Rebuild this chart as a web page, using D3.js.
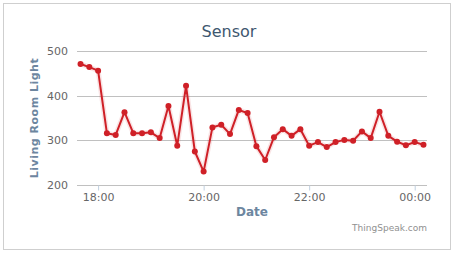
<!DOCTYPE html>
<html>
<head>
<meta charset="utf-8">
<script src="https://cdn.jsdelivr.net/npm/d3@7"></script>
<style>
  body { margin: 0; background: #fff; }
  svg { display: block; }
</style>
</head>
<body>
<svg id="chart" width="457" height="256"></svg>
<script>
// readings every 10 minutes
var times = ["17:40","17:50","18:00","18:10","18:20","18:30","18:40","18:50","19:00","19:10",
             "19:20","19:30","19:40","19:50","20:00","20:10","20:20","20:30","20:40","20:50",
             "21:00","21:10","21:20","21:30","21:40","21:50","22:00","22:10","22:20","22:30",
             "22:40","22:50","23:00","23:10","23:20","23:30","23:40","23:50","00:00","00:10"]
var light = [471,464,456,316,312,363,316,316,318,305,
             377,288,422,275,230,329,335,314,368,361,
             287,256,307,325,310,325,288,296,285,296,
             301,299,320,305,364,310,297,289,296,290]
var yTicks = [200, 300, 400, 500]
var xStart = "17:36", xEnd = "00:14"

function toDate(s){
  var p = s.split(":"), h = +p[0], m = +p[1]
  var day = h < 12 ? 2 : 1   // after midnight -> next day
  return new Date(2015, 0, day, h, m)
}

var svg = d3.select("#chart")
var font = "'DejaVu Sans', Verdana, sans-serif"
var red = "#cf2027"

// outer frame
svg.append("rect")
  .attr("x", 3.5).attr("y", 3.5).attr("width", 447).attr("height", 246)
  .style("fill", "#fff").style("stroke", "#cfcfcf")

var plotL = 77, plotR = 427, plotT = 51, plotB = 185

var x = d3.scaleTime().domain([toDate(xStart), toDate(xEnd)]).range([plotL, plotR])
var y = d3.scaleLinear().domain([200, 500]).range([plotB, plotT])

// grid lines
svg.append("g")
  .selectAll("line")
  .data(yTicks)
  .enter()
  .append("line")
  .attr("x1", plotL).attr("x2", plotR)
  .attr("y1", function(d){ return Math.round(y(d)) + 0.5 })
  .attr("y2", function(d){ return Math.round(y(d)) + 0.5 })
  .style("stroke", "#c0c0c0").style("stroke-width", 1)

// y axis labels
var yAxis = svg.append("g")
  .attr("transform", "translate(" + (plotL - 9) + ",0)")
  .call(d3.axisLeft(y).tickValues(yTicks).tickSize(0).tickPadding(0))
yAxis.select(".domain").remove()
yAxis.selectAll("text")
  .style("font-family", font).style("font-size", "11px").style("fill", "#666")

// x axis
var xAxis = svg.append("g")
  .attr("transform", "translate(0," + (plotB + 0.5) + ")")
  .call(d3.axisBottom(x).ticks(d3.timeHour.every(2)).tickFormat(d3.timeFormat("%H:%M")).tickSize(5).tickPadding(3))
xAxis.select(".domain").remove()
xAxis.selectAll("line").style("stroke", "#c0d0e0")
xAxis.selectAll("text")
  .style("font-family", font).style("font-size", "11px").style("fill", "#666")

// title
svg.append("text")
  .attr("x", 229).attr("y", 37)
  .attr("text-anchor", "middle")
  .style("font-family", font).style("font-size", "16px")
  .style("fill", "#3e576f")
  .text("Sensor")

// axis titles
svg.append("text")
  .attr("text-anchor", "middle")
  .attr("transform", "translate(38," + ((plotT + plotB) / 2) + ")rotate(-90)")
  .style("font-family", font).style("font-size", "11px").style("font-weight", "bold")
  .style("letter-spacing", "0.5px")
  .style("fill", "#6d869f")
  .text("Living Room Light")

svg.append("text")
  .attr("x", (plotL + plotR) / 2).attr("y", 216)
  .attr("text-anchor", "middle")
  .style("font-family", font).style("font-size", "12px").style("font-weight", "bold")
  .style("fill", "#6d869f")
  .text("Date")

svg.append("text")
  .attr("x", plotR).attr("y", 231)
  .attr("text-anchor", "end")
  .style("font-family", font).style("font-size", "9px")
  .style("fill", "#909090")
  .text("ThingSpeak.com")

// series
var dataset = []
for (let i = 0; i < times.length; i++) dataset.push([toDate(times[i]), light[i]])

var line = d3.line()
  .x(function(d){ return x(d[0]) })
  .y(function(d){ return y(d[1]) })

// soft shadow under the line
svg.append("path")
  .datum(dataset)
  .attr("d", line)
  .style("fill", "none")
  .style("stroke", red)
  .style("stroke-opacity", 0.12)
  .style("stroke-width", 5)
  .style("stroke-linejoin", "round")

svg.append("path")
  .datum(dataset)
  .attr("d", line)
  .style("fill", "none")
  .style("stroke", red)
  .style("stroke-width", 2)
  .style("stroke-linejoin", "round")

svg.append("g")
  .selectAll("circle")
  .data(dataset)
  .enter()
  .append("circle")
  .attr("cx", function(d){ return x(d[0]) })
  .attr("cy", function(d){ return y(d[1]) })
  .attr("r", 3)
  .style("fill", red)
</script>
</body>
</html>
